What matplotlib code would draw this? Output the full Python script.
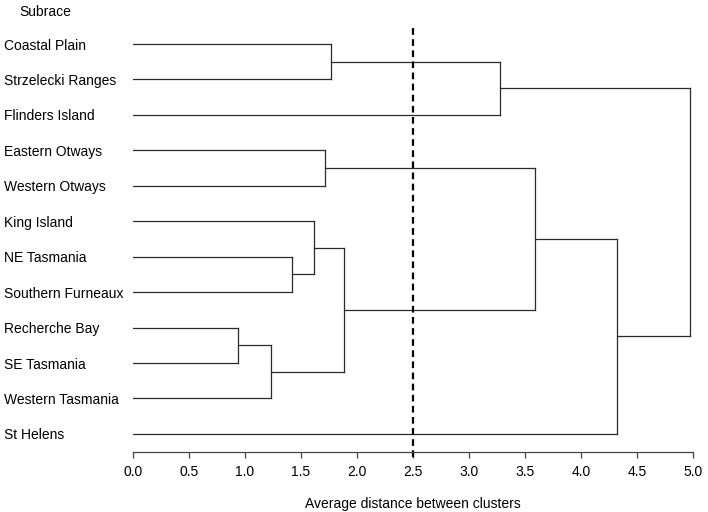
import matplotlib
matplotlib.use("Agg")
import matplotlib.pyplot as plt
import matplotlib.transforms as mtransforms

plt.rcParams['font.family'] = ['Liberation Sans', 'DejaVu Sans']

# leaves, top to bottom
leaves = ["Coastal Plain", "Strzelecki Ranges", "Flinders Island",
          "Eastern Otways", "Western Otways", "King Island", "NE Tasmania",
          "Southern Furneaux", "Recherche Bay", "SE Tasmania",
          "Western Tasmania", "St Helens"]

# merges: (child a, child b, height); new clusters numbered from len(leaves)
merge_a = [0, 12, 3, 6, 5, 8, 17, 16, 14, 20, 13]
merge_b = [1, 2, 4, 7, 15, 9, 10, 18, 19, 11, 21]
merge_h = [1.77, 3.28, 1.71, 1.42, 1.62, 0.94, 1.23, 1.88, 3.59, 4.32, 4.97]

cut_height = 2.5
xticks = [0.0, 0.5, 1.0, 1.5, 2.0, 2.5, 3.0, 3.5, 4.0, 4.5, 5.0]

fig = plt.figure(figsize=(7.08, 5.12), dpi=100)
ax = fig.add_axes([133 / 708, 1 - 452 / 512, 560 / 708, 425 / 512])

lc = '#2a2a2a'
ypos = {i: float(i) for i in range(len(leaves))}
xpos = {i: 0.0 for i in range(len(leaves))}
for k, (a, b, h) in enumerate(zip(merge_a, merge_b, merge_h)):
    c = len(leaves) + k
    ax.plot([xpos[a], h], [ypos[a], ypos[a]], color=lc, lw=0.9)
    ax.plot([xpos[b], h], [ypos[b], ypos[b]], color=lc, lw=0.9)
    ax.plot([h, h], [ypos[a], ypos[b]], color=lc, lw=0.9)
    ypos[c] = (ypos[a] + ypos[b]) / 2
    xpos[c] = h

ax.axvline(cut_height, ymin=-0.012, ymax=1, color='black', lw=1.6,
           linestyle=(0, (3, 2)), clip_on=False)

ax.set_xlim(0, 5)
ax.set_ylim(len(leaves) - 0.49, -0.48)
for s in ['top', 'right', 'left']:
    ax.spines[s].set_visible(False)
ax.spines['bottom'].set_color('#444444')
ax.spines['bottom'].set_linewidth(0.9)
ax.set_yticks([])
ax.set_xticks(xticks)
ax.set_xticklabels(['%.1f' % t for t in xticks], fontsize=10)
ax.tick_params(axis='x', length=4.3, width=0.9, color='#444444', pad=5)
ax.set_xlabel('Average distance between clusters', fontsize=10, labelpad=13)

trans = mtransforms.blended_transform_factory(fig.transFigure, ax.transData)
for i, name in enumerate(leaves):
    ax.text(4 / 708, i, name, transform=trans, ha='left',
            va='center_baseline', fontsize=10)
fig.text(19 / 708, 1 - 10 / 512, 'Subrace', ha='left', va='center_baseline',
         fontsize=10)

fig.savefig('out.png', dpi=100)
